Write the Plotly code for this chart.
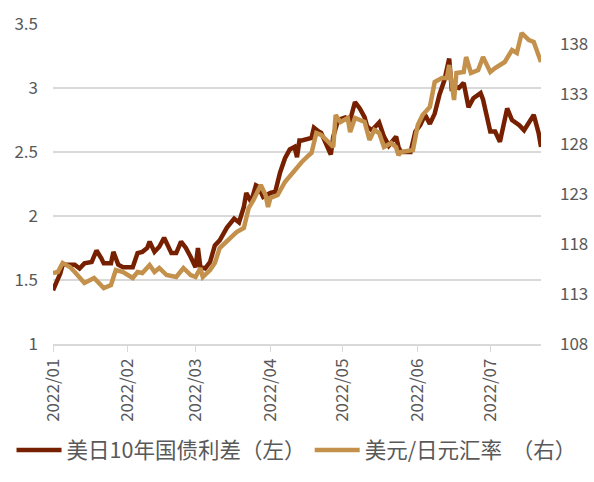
import plotly.graph_objects as go

# 美日10年国债利差（左轴）
spread_dates = [
    "2022-01-03", "2022-01-06", "2022-01-07", "2022-01-12", "2022-01-14", "2022-01-16",
    "2022-01-19", "2022-01-21", "2022-01-23", "2022-01-24", "2022-01-27", "2022-01-28",
    "2022-01-30", "2022-02-01", "2022-02-05", "2022-02-07", "2022-02-09", "2022-02-11",
    "2022-02-12", "2022-02-14", "2022-02-16", "2022-02-18", "2022-02-21", "2022-02-23",
    "2022-02-25", "2022-02-27", "2022-03-01", "2022-03-03", "2022-03-04", "2022-03-05",
    "2022-03-07", "2022-03-09", "2022-03-11", "2022-03-13", "2022-03-16", "2022-03-19",
    "2022-03-21", "2022-03-23", "2022-03-24", "2022-03-26", "2022-03-28", "2022-03-29",
    "2022-03-31", "2022-04-03", "2022-04-05", "2022-04-07", "2022-04-09", "2022-04-11",
    "2022-04-13", "2022-04-14", "2022-04-15", "2022-04-16", "2022-04-20", "2022-04-21",
    "2022-04-23", "2022-04-24", "2022-04-28", "2022-04-29", "2022-05-01", "2022-05-04",
    "2022-05-06", "2022-05-08", "2022-05-10", "2022-05-12", "2022-05-13", "2022-05-15",
    "2022-05-18", "2022-05-20", "2022-05-22", "2022-05-25", "2022-05-26", "2022-05-27",
    "2022-05-31", "2022-06-02", "2022-06-04", "2022-06-06", "2022-06-08", "2022-06-10",
    "2022-06-12", "2022-06-14", "2022-06-16", "2022-06-17", "2022-06-18", "2022-06-20",
    "2022-06-22", "2022-06-24", "2022-06-26", "2022-06-29", "2022-06-30", "2022-07-03",
    "2022-07-05", "2022-07-07", "2022-07-10", "2022-07-12", "2022-07-15", "2022-07-17",
    "2022-07-21", "2022-07-23", "2022-07-24",
]
spread = [
    1.42, 1.55, 1.62, 1.62, 1.59, 1.63,
    1.64, 1.73, 1.67, 1.63, 1.63, 1.72,
    1.62, 1.60, 1.60, 1.71, 1.72, 1.75,
    1.80, 1.72, 1.76, 1.83, 1.71, 1.71,
    1.80, 1.75, 1.68, 1.60, 1.75, 1.60,
    1.59, 1.64, 1.77, 1.81, 1.91, 1.98,
    1.95, 2.07, 2.18, 2.11, 2.24, 2.23,
    2.15, 2.18, 2.19, 2.34, 2.45, 2.52,
    2.54, 2.46, 2.59, 2.59, 2.61, 2.69,
    2.66, 2.65, 2.48, 2.62, 2.75, 2.77,
    2.75, 2.89, 2.84, 2.77, 2.70, 2.67,
    2.73, 2.62, 2.55, 2.62, 2.54, 2.50,
    2.50, 2.66, 2.71, 2.79, 2.72, 2.80,
    2.95, 3.06, 3.23, 3.00, 3.01, 3.00,
    3.04, 2.85, 2.92, 2.96, 2.91, 2.66,
    2.66, 2.58, 2.84, 2.75, 2.71, 2.67,
    2.79, 2.65, 2.54,
]

# 美元/日元汇率（右轴）
fx_dates = [
    "2022-01-03", "2022-01-05", "2022-01-07", "2022-01-10", "2022-01-12", "2022-01-14",
    "2022-01-16", "2022-01-20", "2022-01-22", "2022-01-24", "2022-01-27", "2022-01-29",
    "2022-02-01", "2022-02-05", "2022-02-07", "2022-02-09", "2022-02-12", "2022-02-14",
    "2022-02-16", "2022-02-19", "2022-02-23", "2022-02-26", "2022-03-01", "2022-03-03",
    "2022-03-05", "2022-03-06", "2022-03-09", "2022-03-11", "2022-03-13", "2022-03-17",
    "2022-03-20", "2022-03-23", "2022-03-25", "2022-03-27", "2022-03-30", "2022-04-01",
    "2022-04-02", "2022-04-03", "2022-04-06", "2022-04-09", "2022-04-13", "2022-04-16",
    "2022-04-19", "2022-04-20", "2022-04-22", "2022-04-24", "2022-04-27", "2022-04-29",
    "2022-04-30", "2022-05-02", "2022-05-05", "2022-05-06", "2022-05-08", "2022-05-12",
    "2022-05-14", "2022-05-16", "2022-05-18", "2022-05-20", "2022-05-23", "2022-05-25",
    "2022-05-26", "2022-05-27", "2022-06-01", "2022-06-03", "2022-06-05", "2022-06-08",
    "2022-06-10", "2022-06-13", "2022-06-15", "2022-06-16", "2022-06-18", "2022-06-19",
    "2022-06-22", "2022-06-23", "2022-06-25", "2022-06-28", "2022-06-30", "2022-07-03",
    "2022-07-05", "2022-07-09", "2022-07-12", "2022-07-14", "2022-07-16", "2022-07-19",
    "2022-07-21", "2022-07-24",
]
usdjpy = [
    115.1, 115.2, 116.1, 115.7, 115.2, 114.7,
    114.1, 114.6, 114.1, 113.6, 113.9, 115.4,
    115.2, 114.6, 115.2, 115.1, 115.9, 115.2,
    115.6, 114.9, 114.7, 115.6, 114.9, 114.7,
    115.6, 114.7, 115.4, 116.1, 117.6, 118.6,
    119.2, 119.6, 121.6, 122.4, 123.9, 122.9,
    121.7, 122.6, 122.9, 124.2, 125.4, 126.2,
    126.9, 127.1, 129.1, 128.9, 128.2, 127.7,
    130.9, 130.2, 130.6, 129.2, 130.6, 130.2,
    128.4, 129.4, 129.1, 127.7, 128.1, 127.7,
    126.9, 127.2, 127.4, 129.9, 130.9, 131.7,
    134.2, 134.6, 134.6, 135.9, 132.4, 135.1,
    135.2, 136.7, 135.1, 135.4, 136.7, 135.2,
    135.6, 136.2, 137.4, 137.1, 139.1, 138.4,
    138.2, 136.2,
]

month_ticks = ["2022-01-03", "2022-02-03", "2022-03-03", "2022-04-03",
               "2022-05-03", "2022-06-03", "2022-07-03"]
month_labels = ["2022/01", "2022/02", "2022/03", "2022/04",
                "2022/05", "2022/06", "2022/07"]

left_ticks = [1, 1.5, 2, 2.5, 3, 3.5]
right_ticks = [108, 113, 118, 123, 128, 133, 138]

font_family = "Noto Sans CJK SC, Noto Sans, sans-serif"
grey = "#595959"

fig = go.Figure()
fig.add_trace(go.Scatter(
    x=spread_dates, y=spread, mode="lines", name="美日10年国债利差（左）",
    line=dict(color="#772000", width=4.5), legend="legend",
))
fig.add_trace(go.Scatter(
    x=fx_dates, y=usdjpy, mode="lines", name="美元/日元汇率  （右）", yaxis="y2",
    line=dict(color="#C4914C", width=4.5), legend="legend2",
))

legend_style = dict(
    orientation="h", xanchor="left", y=-0.331, yanchor="middle",
    font=dict(size=21.5, color=grey), itemwidth=45, bgcolor="rgba(0,0,0,0)",
)

fig.update_layout(
    width=594, height=482,
    margin=dict(l=49, r=53, t=24, b=138),
    paper_bgcolor="white", plot_bgcolor="white",
    font=dict(family=font_family, color=grey, size=17),
    xaxis=dict(
        type="date", range=["2022-01-03", "2022-07-24"], automargin=False,
        tickvals=month_ticks, ticktext=month_labels, tickangle=-90,
        showgrid=False, showline=True, linecolor="#d9d9d9", linewidth=1.5,
        ticks="outside", ticklen=6, tickcolor="#d9d9d9",
        tickfont=dict(size=17, color=grey),
    ),
    yaxis=dict(
        range=[1, 3.5], tickvals=left_ticks, ticktext=["1", "1.5", "2", "2.5", "3", "3.5"],
        showgrid=True, gridcolor="#d9d9d9", gridwidth=1.5, zeroline=False,
        showline=False, ticks="", ticklabelstandoff=14, automargin=False,
        tickfont=dict(size=17, color=grey),
    ),
    yaxis2=dict(
        overlaying="y", side="right", range=[108, 140], tickvals=right_ticks,
        showgrid=False, zeroline=False, showline=False, ticks="",
        ticklabelstandoff=18, automargin=False, tickfont=dict(size=17, color=grey),
    ),
    legend=dict(x=-0.085, **legend_style),
    legend2=dict(x=0.526, **legend_style),
    showlegend=True,
)

# 去掉页面默认的 body 边距，避免图被挤出窗口
fig.write_html(
    "out.html",
    config={"displayModeBar": False},
    post_script="document.body.style.margin='0';document.body.style.overflow='hidden';",
)
